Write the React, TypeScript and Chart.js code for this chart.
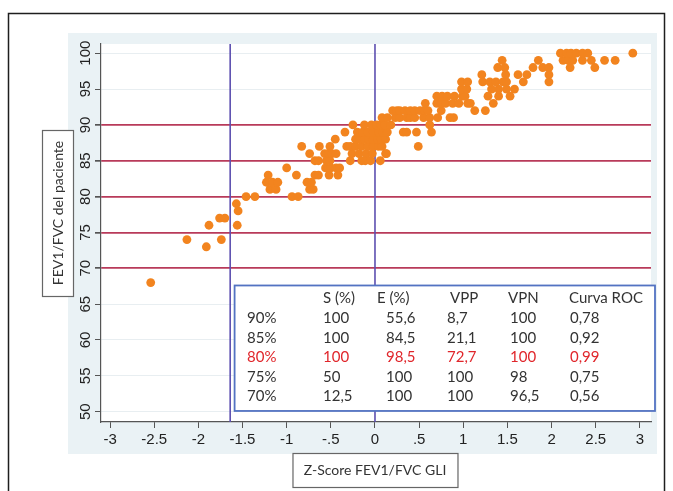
import React, { useEffect, useRef } from "react";
import { Chart, registerables } from "chart.js";

Chart.register(...registerables);

// ---------- data ----------
const xTickValues = [-3, -2.5, -2, -1.5, -1, -0.5, 0, 0.5, 1, 1.5, 2, 2.5, 3];
const xTickLabels = ["-3", "-2.5", "-2", "-1.5", "-1", "-.5", "0", ".5", "1", "1.5", "2", "2.5", "3"];
const yTickValues = [50, 55, 60, 65, 70, 75, 80, 85, 90, 95, 100];
const yTickLabels = ["50", "55", "60", "65", "70", "75", "80", "85", "90", "95", "100"];

const cutoffLines = [70, 75, 80, 85, 90];
const zScoreLines = [-1.64, 0];

const xTitle = "Z-Score FEV1/FVC GLI";
const yTitle = "FEV1/FVC del paciente";

// FEV1/FVC (%) levels and the Z-scores of the patients at each level
const ratioLevels = [68, 73, 74, 76, 77, 78, 79, 80, 81, 82, 83, 84, 85, 86, 87, 88, 89, 90, 91, 92, 93, 94, 95, 96, 97, 98, 99, 100];
const zScoresByLevel = [
  [-2.54],
  [-1.91],
  [-2.13, -1.74],
  [-1.88, -1.56],
  [-1.76, -1.7],
  [-1.55],
  [-1.57],
  [-1.46, -1.36, -0.94, -0.87],
  [-1.19, -1.12, -0.74, -0.7],
  [-1.23, -1.16, -1.1, -0.77, -0.72],
  [-1.21, -0.89, -0.68, -0.64, -0.52, -0.42],
  [-1.0, -0.56, -0.5, -0.44, -0.4],
  [-0.68, -0.64, -0.55, -0.51, -0.28, -0.15, -0.11, -0.05, 0.06],
  [-0.74, -0.57, -0.53, -0.49, -0.44, -0.26, -0.18, -0.1, -0.03, 0.12, 0.13],
  [-0.83, -0.63, -0.51, -0.32, -0.28, -0.22, -0.15, -0.08, -0.02, 0.04, 0.08, 0.49],
  [-0.45, -0.22, -0.17, -0.12, -0.07, -0.02, 0.03, 0.07, 0.12],
  [-0.34, -0.2, -0.14, -0.08, -0.02, 0.04, 0.09, 0.14, 0.32, 0.36, 0.47, 0.64],
  [-0.25, -0.12, -0.04, 0.02, 0.07, 0.11, 0.18, 0.62],
  [0.08, 0.14, 0.23, 0.28, 0.36, 0.4, 0.45, 0.55, 0.62, 0.71, 0.85, 0.89],
  [0.2, 0.25, 0.28, 0.34, 0.4, 0.45, 0.51, 0.56, 0.6, 0.75, 1.13, 1.25],
  [0.57, 0.7, 0.75, 0.8, 0.88, 0.95, 1.05, 1.08, 1.34],
  [0.7, 0.76, 0.82, 0.9, 0.99, 1.02, 1.28, 1.4, 1.53],
  [0.98, 1.04, 1.32, 1.4, 1.49, 1.58],
  [0.98, 1.05, 1.22, 1.3, 1.37, 1.45, 1.49, 1.68, 1.97],
  [1.21, 1.48, 1.62, 1.72, 1.97],
  [1.39, 1.47, 1.79, 1.9, 1.97, 2.21, 2.49],
  [1.44, 1.85, 2.13, 2.19, 2.24, 2.35, 2.45, 2.6, 2.72],
  [2.1, 2.17, 2.22, 2.28, 2.35, 2.41, 2.92],
];

// table
const tableHeaders = ["", "S (%)", "E (%)", "VPP", "VPN", "Curva ROC"];
const tableRowLabels = ["90%", "85%", "80%", "75%", "70%"];
const tableSensitivity = ["100", "100", "100", "50", "12,5"];
const tableSpecificity = ["55,6", "84,5", "98,5", "100", "100"];
const tableVPP = ["8,7", "21,1", "72,7", "100", "100"];
const tableVPN = ["100", "100", "100", "98", "96,5"];
const tableROC = ["0,78", "0,92", "0,99", "0,75", "0,56"];
const highlightedRow = 2;

// ---------- layout / style ----------
const W = 673;
const H = 491;
const X_MIN = -3.103;
const X_MAX = 3.126;
const Y_MIN = 48.56;
const Y_MAX = 101.28;

const ORANGE = "#f2841f";
const RED_LINE = "#b83a5a";
const PURPLE = "#5d4fb0";
const AXIS = "#555";
const TEXT = "#222";
const TICK_FONT = "'Liberation Sans', Arial, sans-serif";
const LABEL_FONT = "Lato, 'Noto Sans', sans-serif";

const points = ratioLevels.flatMap((lvl, i) => zScoresByLevel[i].map((z) => ({ x: z, y: lvl })));

const decorPlugin = {
  id: "decor",
  beforeDraw(chart: any) {
    const { ctx, chartArea: a } = chart;
    ctx.save();
    ctx.fillStyle = "#ffffff";
    ctx.fillRect(0, 0, W, H);
    ctx.fillStyle = "#eaf2f5";
    ctx.fillRect(a.left - 33, a.top - 11, a.width + 39, a.height + 43);
    ctx.fillStyle = "#ffffff";
    ctx.fillRect(a.left, a.top, a.width, a.height);
    ctx.strokeStyle = "#1e1e1e";
    ctx.lineWidth = 1.5;
    ctx.strokeRect(8.5, 13.5, 656, 540);
    ctx.restore();
  },
  afterDatasetsDraw(chart: any) {
    const { ctx } = chart;
    const xs = chart.scales.x;
    const ys = chart.scales.y;
    const left = xs.getPixelForValue(-1.59);
    const right = chart.chartArea.right + 4;
    const top = ys.getPixelForValue(67.6);
    const bottom = ys.getPixelForValue(50.1);
    ctx.save();
    ctx.fillStyle = "#ffffff";
    ctx.fillRect(left, top, right - left, bottom - top);
    ctx.strokeStyle = "#5373c2";
    ctx.lineWidth = 1.8;
    ctx.strokeRect(left, top, right - left, bottom - top);

    const headerX = [247, 323, 377, 450, 508, 569];
    const valueX = [247, 323, 386, 447, 510, 570];
    const rowY = [298, 318.5, 338, 357.5, 377, 396.5];
    ctx.font = `15px ${LABEL_FONT}`;
    ctx.textBaseline = "middle";
    ctx.textAlign = "left";
    ctx.fillStyle = "#333";
    tableHeaders.forEach((h, i) => ctx.fillText(h, headerX[i], rowY[0]));
    const cols = [tableRowLabels, tableSensitivity, tableSpecificity, tableVPP, tableVPN, tableROC];
    tableRowLabels.forEach((_, r) => {
      ctx.fillStyle = r === highlightedRow ? "#e0262b" : "#333";
      cols.forEach((col, c) => ctx.fillText(col[r], valueX[c], rowY[r + 1]));
    });
    ctx.restore();
  },
  afterDraw(chart: any) {
    const { ctx, chartArea: a } = chart;
    const ys = chart.scales.y;
    ctx.save();
    ctx.font = `15px ${TICK_FONT}`;
    ctx.fillStyle = TEXT;
    ctx.textAlign = "center";
    ctx.textBaseline = "middle";
    yTickValues.forEach((v, i) => {
      const py = ys.getPixelForValue(v);
      ctx.save();
      ctx.translate(a.left - 15, py);
      ctx.rotate(-Math.PI / 2);
      ctx.fillText(yTickLabels[i], 0, 0);
      ctx.restore();
    });

    const ybx = 42, byTop = 130, bw = 31, bh = 166;
    ctx.fillStyle = "#ffffff";
    ctx.fillRect(ybx, byTop, bw, bh);
    ctx.strokeStyle = "#666";
    ctx.lineWidth = 1.2;
    ctx.strokeRect(ybx + 0.5, byTop + 0.5, bw, bh);
    ctx.font = `14px ${LABEL_FONT}`;
    ctx.fillStyle = "#333";
    ctx.save();
    ctx.translate(ybx + bw / 2 + 0.5, byTop + bh / 2);
    ctx.rotate(-Math.PI / 2);
    ctx.fillText(yTitle, 0, 0);
    ctx.restore();

    const cx = chart.scales.x.getPixelForValue(0);
    const xbw = 165, xbh = 34, xbTop = 453;
    ctx.fillStyle = "#ffffff";
    ctx.fillRect(cx - xbw / 2, xbTop, xbw, xbh);
    ctx.strokeStyle = "#666";
    ctx.strokeRect(cx - xbw / 2 + 0.5, xbTop + 0.5, xbw, xbh);
    ctx.fillStyle = "#333";
    ctx.fillText(xTitle, cx, xbTop + xbh / 2);
    ctx.restore();
  },
};

export default function App() {
  const canvasRef = useRef<HTMLCanvasElement | null>(null);

  useEffect(() => {
    const canvas = canvasRef.current;
    if (!canvas) return;
    const lineSets = zScoreLines.map((z) => ({
      type: "scatter" as const,
      data: [
        { x: z, y: Y_MIN },
        { x: z, y: Y_MAX },
      ],
      showLine: true,
      borderColor: PURPLE,
      borderWidth: 1.6,
      pointRadius: 0,
      order: 2,
    }));
    const chart = new Chart(canvas, {
      type: "scatter",
      data: {
        datasets: [
          ...lineSets,
          {
            data: points,
            backgroundColor: ORANGE,
            borderColor: ORANGE,
            borderWidth: 0,
            pointRadius: 4.4,
            order: 1,
          },
        ],
      },
      options: {
        responsive: false,
        maintainAspectRatio: false,
        animation: false,
        layout: { autoPadding: false, padding: { left: 71, right: 22, top: 44, bottom: 39 } },
        plugins: { legend: { display: false }, tooltip: { enabled: false }, title: { display: false } },
        scales: {
          x: {
            type: "linear",
            min: X_MIN,
            max: X_MAX,
            afterBuildTicks: (s: any) => {
              s.ticks = xTickValues.map((v) => ({ value: v }));
            },
            afterFit: (s: any) => {
              s.height = 30;
            },
            ticks: {
              callback: (_v: any, i: number) => xTickLabels[i],
              font: { family: TICK_FONT, size: 15 },
              color: TEXT,
              padding: 3,
              maxRotation: 0,
              minRotation: 0,
              autoSkip: false,
            },
            grid: { drawOnChartArea: false, drawTicks: true, tickLength: 6, tickColor: AXIS, tickWidth: 1 },
            border: { display: true, color: AXIS, width: 1.2 },
          },
          y: {
            type: "linear",
            min: Y_MIN,
            max: Y_MAX,
            afterBuildTicks: (s: any) => {
              s.ticks = yTickValues.map((v) => ({ value: v }));
            },
            afterFit: (s: any) => {
              s.width = 30;
            },
            ticks: { display: false },
            grid: {
              drawOnChartArea: true,
              drawTicks: true,
              tickLength: 6,
              tickColor: AXIS,
              color: (c: any) => (c.tick && cutoffLines.includes(c.tick.value) ? RED_LINE : "#e8eef1"),
              lineWidth: (c: any) => (c.tick && cutoffLines.includes(c.tick.value) ? 1.7 : 1),
            },
            border: { display: true, color: AXIS, width: 1.2 },
          },
        },
      },
      plugins: [decorPlugin],
    });
    return () => chart.destroy();
  }, []);

  return (
    <div style={{ position: "fixed", left: 0, top: 0, width: W, height: H, background: "#fff" }}>
      <canvas ref={canvasRef} width={W} height={H} style={{ display: "block", width: W, height: H }} />
    </div>
  );
}
